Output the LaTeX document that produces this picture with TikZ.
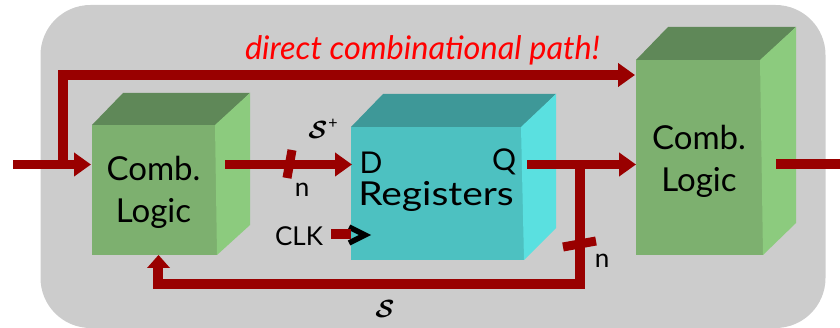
\documentclass[tikz,border=0pt]{standalone}
\usepackage{fontspec}
\setmainfont{Lato}
\usetikzlibrary{arrows.meta}
\definecolor{panel}{HTML}{CCCCCC}
\definecolor{wire}{HTML}{990000}
\definecolor{gfront}{HTML}{7DB06F}
\definecolor{gtop}{HTML}{5F8858}
\definecolor{gside}{HTML}{8CCB7E}
\definecolor{tfront}{HTML}{4DC1C1}
\definecolor{ttop}{HTML}{3E9898}
\definecolor{tside}{HTML}{5AE0E0}
\tikzset{
  wirepath/.style={draw=wire,line width=9.5pt},
  wirearrow/.style={wirepath,-{Triangle[length=17pt,width=23pt]}},
  tickmark/.style={draw=wire,line width=9pt},
  front/.style={inner sep=0pt,outer sep=0pt,anchor=north west},
  blocktext/.style={inner sep=0pt,align=center,font=\fontsize{33}{42}\selectfont},
  lab/.style={inner sep=0pt,font=\fontsize{26}{30}\selectfont},
  port/.style={inner sep=0pt,font=\fontsize{30}{30}\selectfont},
  scr/.style={inner sep=0pt,font=\boldmath\fontsize{52}{52}\selectfont},
}
\begin{document}
\begin{tikzpicture}[x=1pt,y=-1pt]
\useasboundingbox (0,0) rectangle (840,328);
\fill[panel,rounded corners=50pt] (40.5,5) rectangle (825.5,328);

% Cube 1
\node[front,fill=gfront,minimum width=125pt,minimum height=130pt] (cl1) at (92,125) {};
\fill[gtop] (92,125) -- (123,93) -- (250,93) -- (216,125) -- cycle;
\fill[gside] (215,125) -- (250,93) -- (250,225) -- (217,255) -- cycle;

% Registers
\node[front,fill=tfront,minimum width=173pt,minimum height=133pt] (reg) at (351,127) {};
\fill[ttop] (351,127) -- (383,94) -- (556,94) -- (522,127) -- cycle;
\fill[tside] (521,127) -- (556,94) -- (556,228) -- (524,260) -- cycle;

% Cube 2
\node[front,fill=gfront,minimum width=127pt,minimum height=195pt] (cl2) at (636,60) {};
\fill[gtop] (636,60) -- (668,27) -- (796,27) -- (761,60) -- cycle;
\fill[gside] (760,60) -- (796,27) -- (796,223) -- (763,255) -- cycle;

% Block texts
\node[blocktext] (cl1t) at (153.5,192) {Comb.\\Logic};
\node[blocktext] (cl2t) at (699,161) {Comb.\\Logic};
\node[blocktext] (regt) at (436,196) {\scalebox{1.18}[1]{Registers}};

% Free ends and bends
\coordinate (in) at (13,164.5);
\coordinate (inE) at (91,164.5);
\coordinate (tap) at (63,164.5);
\coordinate (bendA) at (63,75);
\coordinate (topE) at (635,75);
\coordinate (clS) at (225,164.5);
\coordinate (dE) at (352,164.5);
\coordinate (qS) at (527,164.5);
\coordinate (qE) at (636,164.5);
\coordinate (fb) at (580,164.5);
\coordinate (fbB) at (580,284);
\coordinate (fbL) at (158,284);
\coordinate (fbE) at (158,267);
\coordinate (fbH1) at (147,268);
\coordinate (fbH2) at (158.5,255);
\coordinate (fbH3) at (170,268);
\coordinate (outS) at (776,164);
\coordinate (outE) at (840,164);
\coordinate (clkS) at (331,234.5);
\coordinate (clkE) at (351,234.5);
\coordinate (ga) at (349,227);
\coordinate (gb) at (365,235);
\coordinate (gc) at (349,243);

% Text labels
\node[inner sep=0pt,text=red,font=\itshape\fontsize{32.5}{34}\selectfont] (title) at (422.5,50) {direct combinational path!};
\node[scr] (splus) at (318,130) {$\mathcal{S}$};
\node[inner sep=0pt,font=\fontsize{16}{16}\selectfont] (plus) at (333,124) {+};
\node[lab] (n1) at (302,190) {n};
\node[lab] (clk) at (299,236) {CLK};
\node[port] (dlab) at (371,163) {D};
\node[port] (qlab) at (504,162) {Q};
\node[lab] (n2) at (602,261) {n};
\node[scr] (sbot) at (385,309) {$\mathcal{S}$};

% Connectors
\draw[wirearrow] (in) -- (inE);
\draw[wirearrow,line join=miter] (tap) -- (bendA) -- (topE);
\draw[wirearrow] (clS) -- (dE);
\draw[wirearrow] (qS) -- (qE);
\draw[wirepath,line join=miter] (fb) -- (fbB) -- (fbL) -- (fbE);
\fill[wire] (fbH1) -- (fbH2) -- (fbH3) -- cycle;
\draw[wirepath] (outS) -- (outE);
\draw[line width=5.5pt,line join=miter] (ga) -- (gb) -- (gc);
\draw[wire,line width=10pt] (clkS) -- (clkE);

% Bus ticks
\coordinate (t1a) at (292,150);
\coordinate (t1b) at (287,178);
\coordinate (t2a) at (563,247);
\coordinate (t2b) at (596,241);
\draw[tickmark] (t1a) -- (t1b);
\draw[tickmark] (t2a) -- (t2b);
\end{tikzpicture}
\end{document}
